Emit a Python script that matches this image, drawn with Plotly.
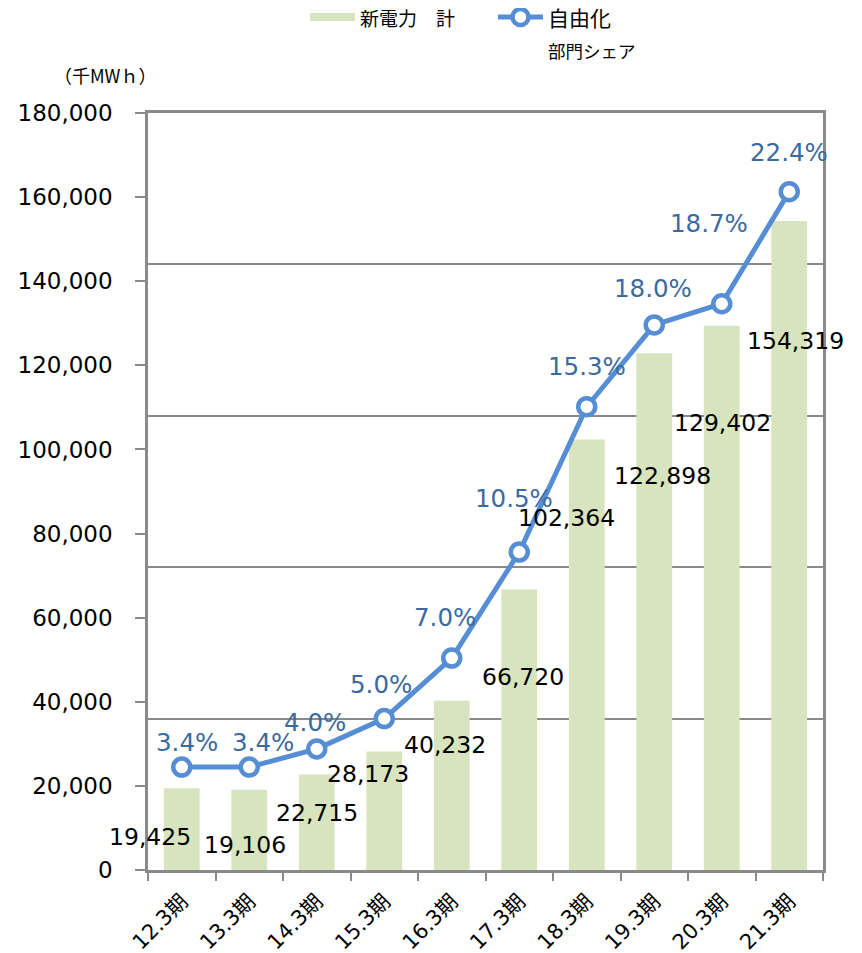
import plotly.graph_objects as go

# ---- data ----
categories = ["12.3期", "13.3期", "14.3期", "15.3期", "16.3期",
              "17.3期", "18.3期", "19.3期", "20.3期", "21.3期"]
volume_mwh = [19425, 19106, 22715, 28173, 40232, 66720, 102364, 122898, 129402, 154319]
share_pct = [3.4, 3.4, 4.0, 5.0, 7.0, 10.5, 15.3, 18.0, 18.7, 22.4]
bar_name = "<span style='font-size:19px'>新電力　計</span>"
line_name = ("<span style='font-size:21px'>自由化</span><br>"
             "<span style='font-size:17.5px'>部門シェア</span>")
unit_label = "（千MWｈ）"

# ---- label placement (pixel offsets from the data point: dx right, dy down) ----
bar_label_offsets = [(-32, 49), (-4, 55), (0, 39), (-16, 22), (-7, 44),
                     (4, 88), (-20, 78), (8, 123), (1, 97), (6, 120)]
pct_label_offsets = [(5, -25), (14, -25), (-2, -26), (-3, -34), (-7, -41),
                     (-5, -54), (0, -40), (-1, -36), (-13, -80), (0, -39)]

FONT = "DejaVu Sans, Verdana, Noto Sans CJK JP, sans-serif"
JFONT = "Noto Sans CJK JP, DejaVu Sans, sans-serif"
BAR_COLOR = "#d7e4bd"
LINE_COLOR = "#558ed5"
PCT_COLOR = "#3b6aa0"
AXIS_COLOR = "#8a8a8a"

# the page body has an 8px default margin, so the figure is 8px smaller
OFF = 8
W, H = 862 - OFF, 953 - OFF
ML, MR, MT, MB = 148 - OFF, 39, 113 - OFF, 83
PW, PH = W - ML - MR, H - MT - MB


def px_x(page_x):
    return (page_x - OFF - ML) / PW


def px_y(page_y):
    return (H - MB - (page_y - OFF)) / PH


fig = go.Figure()

fig.add_trace(go.Bar(
    x=categories, y=volume_mwh, name=bar_name,
    marker=dict(color=BAR_COLOR, line=dict(width=0)),
    width=0.53, showlegend=False, yaxis="y",
))
# legend entry for the bars (drawn as a thick line like the reference)
fig.add_trace(go.Scatter(
    x=categories[:1], y=[None], mode="lines", name=bar_name,
    line=dict(color=BAR_COLOR, width=8), yaxis="y", hoverinfo="skip",
))
fig.add_trace(go.Scatter(
    x=categories, y=share_pct, name=line_name, mode="lines+markers",
    line=dict(color=LINE_COLOR, width=5),
    marker=dict(size=17, color="white", line=dict(color=LINE_COLOR, width=4.5)),
    yaxis="y2",
))

annotations = []
for c, v, (dx, dy) in zip(categories, volume_mwh, bar_label_offsets):
    annotations.append(dict(
        x=c, y=v, xref="x", yref="y", text=f"{v:,}", showarrow=False,
        xshift=dx, yshift=-dy, font=dict(family=FONT, size=23.5, color="#000000"),
    ))
for c, s, (dx, dy) in zip(categories, share_pct, pct_label_offsets):
    annotations.append(dict(
        x=c, y=s, xref="x", yref="y2", text=f"{s:.1f}%", showarrow=False,
        xshift=dx, yshift=-dy, font=dict(family=FONT, size=24.5, color=PCT_COLOR),
    ))
annotations.append(dict(
    x=px_x(105), y=px_y(75), xref="paper", yref="paper",
    text=unit_label, showarrow=False, xanchor="center", yanchor="middle",
    font=dict(family=JFONT, size=18, color="#000000"),
))

fig.update_layout(
    width=W, height=H,
    margin=dict(l=ML, r=MR, t=MT, b=MB, autoexpand=False),
    paper_bgcolor="white", plot_bgcolor="white",
    showlegend=True,
    legend=dict(
        orientation="h", xref="paper", yref="paper",
        x=px_x(305), y=px_y(-5), xanchor="left", yanchor="top",
        font=dict(family=JFONT, size=24, color="#000000"),
        valign="top", itemwidth=45, traceorder="normal", entrywidth=128,
        bgcolor="rgba(0,0,0,0)",
    ),
    bargap=0.47,
    xaxis=dict(
        type="category", categoryorder="array", categoryarray=categories,
        range=[-0.5, len(categories) - 0.5], autorange=False,
        tickangle=-45, tickson="boundaries",
        ticks="outside", ticklen=8, tickwidth=2, tickcolor=AXIS_COLOR,
        showline=True, linecolor=AXIS_COLOR, linewidth=2.5, mirror=True,
        showgrid=False, automargin=False, ticklabelstandoff=8,
        tickfont=dict(family=FONT, size=21, color="#000000"),
    ),
    yaxis=dict(
        range=[0, 180000], dtick=20000, tickformat=",d",
        ticks="outside", ticklen=10, tickwidth=2, tickcolor=AXIS_COLOR,
        showline=True, linecolor=AXIS_COLOR, linewidth=2.5,
        showgrid=False, zeroline=False, ticklabelstandoff=18, automargin=False,
        tickfont=dict(family=FONT, size=23, color="#000000"),
    ),
    yaxis2=dict(
        range=[0, 25], dtick=5, overlaying="y", side="right",
        showticklabels=False, ticks="", automargin=False,
        showline=True, linecolor=AXIS_COLOR, linewidth=2.5,
        showgrid=True, gridcolor=AXIS_COLOR, gridwidth=1.6, zeroline=False,
    ),
    annotations=annotations,
)

fig.write_html("out.html")
